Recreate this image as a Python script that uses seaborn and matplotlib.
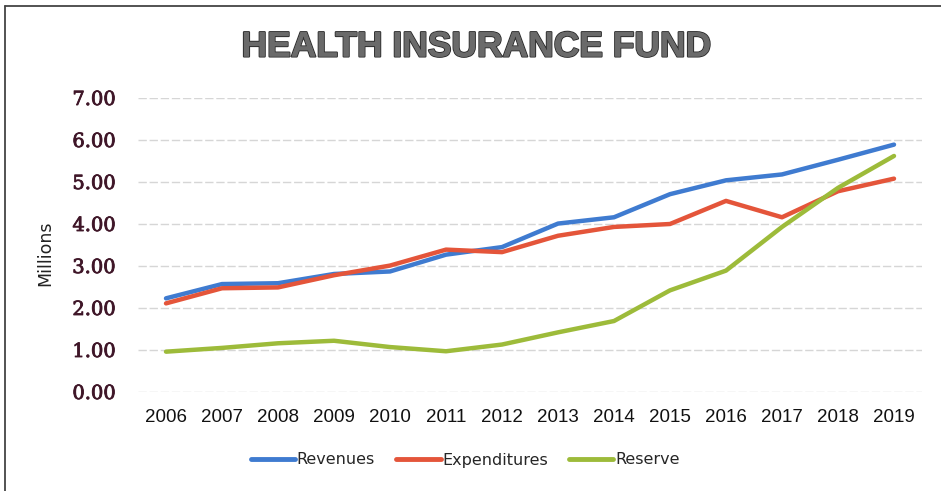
import matplotlib
matplotlib.use("Agg")
import matplotlib.pyplot as plt
import matplotlib.patheffects as pe
import seaborn as sns
import pandas as pd
from matplotlib.lines import Line2D

years = ["2006", "2007", "2008", "2009", "2010", "2011", "2012",
         "2013", "2014", "2015", "2016", "2017", "2018", "2019"]
revenues = [2.23, 2.57, 2.59, 2.81, 2.87, 3.27, 3.45, 4.01, 4.16, 4.71, 5.04, 5.18, 5.53, 5.89]
expenditures = [2.11, 2.47, 2.49, 2.78, 3.01, 3.39, 3.33, 3.72, 3.93, 4.00, 4.55, 4.16, 4.78, 5.08]
reserve = [0.96, 1.05, 1.16, 1.22, 1.07, 0.97, 1.13, 1.42, 1.69, 2.42, 2.89, 3.93, 4.86, 5.62]
series_names = ["Revenues", "Expenditures", "Reserve"]
colors = ["#3f7bd0", "#e4553a", "#9dbb3a"]
yticks = [0, 1, 2, 3, 4, 5, 6, 7]

sns.set_theme(style="white")
plt.rcParams['font.family'] = ['DejaVu Sans']

rows = []
for name, vals in zip(series_names, [revenues, expenditures, reserve]):
    for i, v in enumerate(vals):
        rows.append({"pos": i, "year": years[i], "value": v, "series": name})
df = pd.DataFrame(rows)

fig = plt.figure(figsize=(9.41, 4.91), dpi=100)
ax = fig.add_axes([138/941, 1-392/491, (922-138)/941, (392-98)/491])

sns.lineplot(data=df, x="pos", y="value", hue="series", hue_order=series_names,
             palette=colors, linewidth=3.2, ax=ax, legend=False, sort=False)

ax.set_xlim(-0.5, len(years) - 0.5)
ax.set_ylim(0, 7)
ax.set_xticks(range(len(years)))
ax.set_xticklabels(years, fontsize=13.5, color="#111111", family="Liberation Sans")
ax.set_yticks(yticks)
ax.set_yticklabels([f"{v:.2f}" for v in yticks], family="DejaVu Serif",
                   fontsize=14, color="#3f1628",
                   path_effects=[pe.withStroke(linewidth=0.6, foreground="#3f1628")])
ax.tick_params(axis="x", length=0, pad=12)
ax.tick_params(axis="y", length=0, pad=16)
ax.set_xlabel("")
ax.set_ylabel("")
for s in ax.spines.values():
    s.set_visible(False)
ax.grid(axis="y", color="#d6d6d6", linewidth=1.0, linestyle=(0, (6, 2)))
ax.set_axisbelow(True)

fig.text(45/941, 1-253/491, "Millions", rotation=90, ha="center", va="center",
         fontsize=12.5, color="#222222")

fig.text(476/941, 1-47/491, "HEALTH INSURANCE FUND", ha="center", va="center",
         fontsize=25.5, fontweight="bold", color="#6a6a6a",
         family=["Liberation Sans", "DejaVu Sans"],
         path_effects=[pe.withStroke(linewidth=1.5, foreground="#2e2e2e"), pe.Normal()])

handles = [Line2D([0], [0], color=c, lw=3.5) for c in colors]
fig.legend(handles, series_names, loc="center", bbox_to_anchor=(465/941, 1-460/491),
           ncol=3, frameon=False, fontsize=11.5, handlelength=2.8, handletextpad=0.1,
           columnspacing=1.3)

# scanned frame: left and top edges
fig.add_artist(Line2D([5/941, 1.0], [1-6/491, 1-6/491], transform=fig.transFigure,
                      color="#444444", linewidth=1.3))
fig.add_artist(Line2D([5/941, 5/941], [0.0, 1-6/491], transform=fig.transFigure,
                      color="#444444", linewidth=1.3))

fig.savefig("out.png", dpi=100)
